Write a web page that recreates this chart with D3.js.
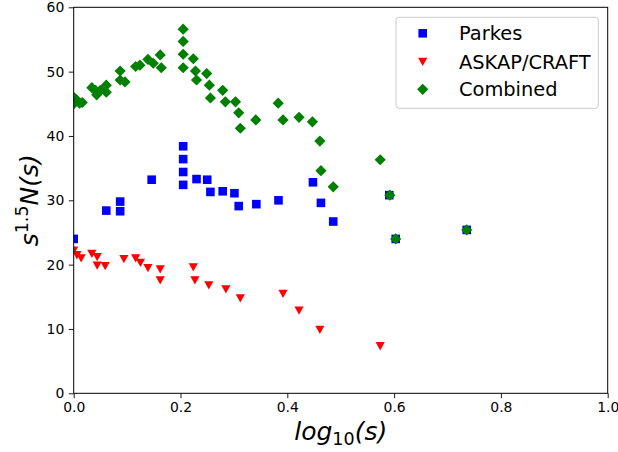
<!DOCTYPE html>
<html><head><meta charset="utf-8">
<script src="https://cdn.jsdelivr.net/npm/d3@7"></script>
<style>body{margin:0;background:#fff}svg{display:block}text{font-family:"DejaVu Sans",sans-serif}</style>
</head><body>
<svg id="c" width="618" height="452"></svg>
<script>
const parkesX = [0.0,0.061,0.087,0.087,0.146,0.205,0.205,0.205,0.205,0.230,0.250,0.256,0.279,0.301,0.309,0.342,0.3835,0.448,0.463,0.486,0.591,0.603,0.736];
const parkesY = [24.0,28.4,29.8,28.3,33.2,38.4,36.4,34.4,32.4,33.3,33.2,31.3,31.4,31.1,29.1,29.4,30.0,32.8,29.6,26.7,30.8,24.0,25.4];
const askapX = [0.0,0.006,0.014,0.034,0.044,0.044,0.059,0.094,0.116,0.125,0.139,0.162,0.162,0.224,0.227,0.253,0.285,0.312,0.392,0.422,0.461,0.574];
const askapY = [22.2,21.5,21.0,21.7,21.2,19.9,19.8,20.9,21.0,20.3,19.5,19.3,17.6,19.6,17.6,16.8,16.2,14.8,15.5,12.9,9.9,7.35];
const combX = [0.0,0.0,0.004,0.011,0.016,0.034,0.041,0.043,0.050,0.061,0.061,0.087,0.087,0.096,0.116,0.124,0.139,0.149,0.162,0.164,0.205,0.205,0.205,0.205,0.224,0.228,0.230,0.249,0.254,0.256,0.279,0.284,0.303,0.309,0.312,0.341,0.383,0.392,0.422,0.447,0.461,0.463,0.486,0.574,0.592,0.603,0.736];
const combY = [46.0,45.0,45.7,45.1,45.2,47.5,47.1,46.4,47.1,47.9,46.8,50.1,48.7,48.4,50.8,51.0,51.9,51.3,52.6,50.6,56.6,54.7,52.7,50.6,52.0,50.1,48.7,49.7,47.9,45.9,47.1,45.3,45.3,43.6,41.2,42.5,45.1,42.5,42.9,42.2,39.2,34.6,32.1,36.3,30.8,24.0,25.4];
const xTicks = [0.0,0.2,0.4,0.6,0.8,1.0];
const yTicks = [0,10,20,30,40,50,60];
const seriesNames = ["Parkes","ASKAP/CRAFT","Combined"];
const seriesColors = ["#0000ff","#ff0000","#008000"];

const L=73.7, R=607.7, T=7.3, B=393.3;
const svg=d3.select("#c");
const x=d3.scaleLinear().domain([0,1]).range([L,R]);
const y=d3.scaleLinear().domain([0,60]).range([B,T]);

svg.append("defs").append("clipPath").attr("id","clip")
  .append("rect").attr("x",L).attr("y",T).attr("width",R-L).attr("height",B-T);

const shapes = [
  (g,c)=>g.append("rect").attr("x",-4.3).attr("y",-4.3).attr("width",8.6).attr("height",8.6).attr("fill",c),
  (g,c)=>g.append("path").attr("d","M-4.6,-3.9L4.6,-3.9L0,4.4Z").attr("fill",c),
  (g,c)=>g.append("path").attr("d","M0,-5.6L5.6,0L0,5.6L-5.6,0Z").attr("fill",c)
];

const plot=svg.append("g").attr("clip-path","url(#clip)");
const sets=[[parkesX,parkesY],[askapX,askapY],[combX,combY]];
sets.forEach(([xs,ys],i)=>{
  const pts=xs.map((v,j)=>[v,ys[j]]);
  plot.append("g").selectAll("g").data(pts).join("g")
    .attr("transform",d=>`translate(${x(d[0])},${y(d[1])})`)
    .each(function(){shapes[i](d3.select(this),seriesColors[i]);});
});

// axes
const xa=svg.append("g").attr("transform",`translate(0,${B})`)
  .call(d3.axisBottom(x).tickValues(xTicks).tickFormat(d3.format(".1f")).tickSize(4.9).tickPadding(4));
const ya=svg.append("g").attr("transform",`translate(${L},0)`)
  .call(d3.axisLeft(y).tickValues(yTicks).tickFormat(d3.format("d")).tickSize(4.9).tickPadding(4.5));
[xa,ya].forEach(a=>{
  a.select(".domain").remove();
  a.selectAll("line").attr("stroke","#000").attr("stroke-width",0.9);
  a.selectAll("text").attr("font-size","13.9px").attr("fill","#000").attr("font-family","DejaVu Sans");
});
svg.append("rect").attr("x",L).attr("y",T).attr("width",R-L).attr("height",B-T)
  .attr("fill","none").attr("stroke","#000").attr("stroke-width",1);

// labels
const xl=svg.append("text").attr("x",(L+R)/2).attr("y",440).attr("text-anchor","middle")
  .attr("font-size","25px").attr("font-style","italic").attr("fill","#000");
xl.append("tspan").text("log");
xl.append("tspan").attr("font-size","17.5px").attr("font-style","normal").attr("dy",5).text("10");
xl.append("tspan").attr("dy",-5).text("(s)");

const yl=svg.append("text").attr("transform",`translate(37.5,${(T+B)/2}) rotate(-90)`)
  .attr("text-anchor","middle").attr("font-size","25px").attr("font-style","italic").attr("fill","#000");
yl.append("tspan").text("s");
yl.append("tspan").attr("font-size","17.5px").attr("font-style","normal").attr("dy",-10).text("1.5");
yl.append("tspan").attr("dy",10).text("N(s)");

// legend
const lg=svg.append("g");
lg.append("rect").attr("x",396).attr("y",17.3).attr("width",202.3).attr("height",91)
  .attr("rx",3).attr("fill","#fff").attr("fill-opacity",0.8).attr("stroke","#cccccc").attr("stroke-width",1);
const rowsY=[33.3,61.7,89.3];
seriesNames.forEach((n,i)=>{
  const g=lg.append("g").attr("transform",`translate(422.7,${rowsY[i]})`);
  shapes[i](g,seriesColors[i]);
  lg.append("text").attr("x",459).attr("y",rowsY[i]).attr("dy","0.36em")
    .attr("font-size","19.4px").attr("fill","#000").text(n);
});
</script>
</body></html>
